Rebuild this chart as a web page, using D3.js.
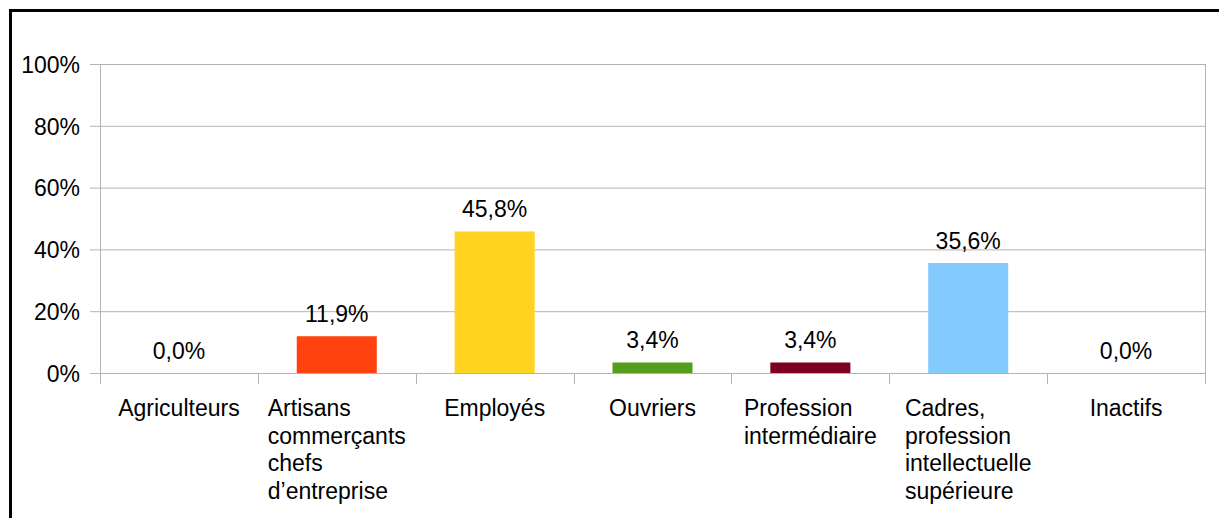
<!DOCTYPE html>
<html><head><meta charset="utf-8">
<script src="https://cdn.jsdelivr.net/npm/d3@7"></script>
<style>html,body{margin:0;padding:0;background:#fff;overflow:hidden}</style>
</head><body>
<svg id="c" width="1219" height="518"></svg>
<script>
const categories = [
  ["Agriculteurs"],
  ["Artisans","commerçants","chefs","d\u2019entreprise"],
  ["Employés"],
  ["Ouvriers"],
  ["Profession","intermédiaire"],
  ["Cadres,","profession","intellectuelle","supérieure"],
  ["Inactifs"]
];
const values = [0.0, 11.9, 45.8, 3.4, 3.4, 35.6, 0.0];
const colors = ["#ff420e","#ff420e","#ffd320","#579d1c","#7e0021","#83caff","#83caff"];
const yTicks = [0, 20, 40, 60, 80, 100];

const svg = d3.select("#c");
const font = "'Liberation Sans', Arial, sans-serif";
const fs = 23;
const L = 100, R = 1205, T = 64, B = 373;
const grid = "#b3b3b3";

svg.append("rect").attr("x",10.5).attr("y",10.5).attr("width",1400).attr("height",700)
  .attr("fill","none").attr("stroke","#000").attr("stroke-width",3);

const x = d3.scaleBand().domain(d3.range(categories.length)).range([L, R]).padding(0);
const y = d3.scaleLinear().domain([0, 100]).range([B, T]);

// gridlines + y ticks
const yAxis = d3.axisLeft(y).tickValues(yTicks).tickSize(-(R - L) - 10).tickFormat(d => d + "%");
const gy = svg.append("g").attr("transform", `translate(${L},0)`).call(yAxis);
gy.select(".domain").remove();
gy.selectAll(".tick line").attr("stroke", grid).attr("x1", -10).attr("x2", R - L).attr("stroke-width",1);
gy.selectAll(".tick text").attr("font-family", font).attr("font-size", fs).attr("fill", "#000").attr("x", -20).attr("dy","0.36em");

// vertical separators
const bounds = d3.range(categories.length + 1).map(i => i < categories.length ? x(i) : R);
svg.append("g").selectAll("line").data(bounds).join("line")
  .attr("x1", d => Math.round(d) + 0.5).attr("x2", d => Math.round(d) + 0.5)
  .attr("y1", (d, i) => (i === 0 || i === categories.length) ? T : B)
  .attr("y2", B + 11).attr("stroke", grid).attr("stroke-width",1);

// bars
const bw = x.bandwidth() * 0.507;
svg.append("g").selectAll("rect").data(values).join("rect")
  .attr("x", (d, i) => x(i) + (x.bandwidth() - bw) / 2)
  .attr("y", d => y(d)).attr("width", bw).attr("height", d => y(0) - y(d))
  .attr("fill", (d, i) => colors[i]);

// value labels
svg.append("g").selectAll("text").data(values).join("text")
  .attr("x", (d, i) => x(i) + x.bandwidth() / 2).attr("y", d => y(d) - 14)
  .attr("text-anchor", "middle").attr("font-family", font).attr("font-size", fs).attr("fill","#000")
  .text(d => d.toFixed(1).replace(".", ",") + "%");

// category labels
const lg = svg.append("g");
categories.forEach((lines, i) => {
  const t = lg.append("text").attr("font-family", font).attr("font-size", fs).attr("fill","#000");
  lines.forEach((s, j) => t.append("tspan").attr("y", 416 + j * 27.5).text(s));
  const tsp = t.selectAll("tspan").nodes();
  const w = d3.max(tsp, n => n.getComputedTextLength());
  const x0 = x(i) + x.bandwidth() / 2 - w / 2;
  t.selectAll("tspan").attr("x", x0);
});
</script>
</body></html>
